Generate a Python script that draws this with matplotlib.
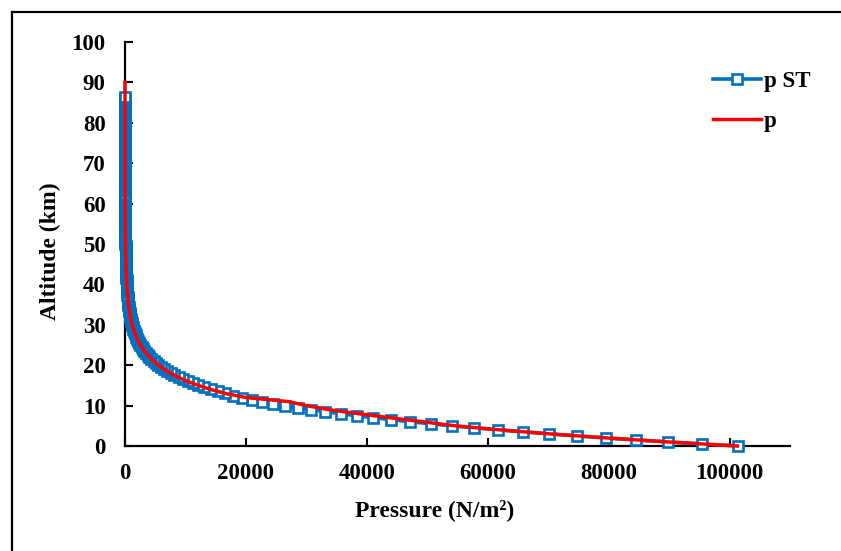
import matplotlib
matplotlib.use("Agg")
import matplotlib.pyplot as plt
from matplotlib.lines import Line2D

# Standard atmosphere pressure (N/m^2) every 0.5 km from 0 to 86.5 km
st_alt_km = [i * 0.5 for i in range(174)]
st_pressure = [
    101325, 95461, 89876, 84560, 79501, 74692, 70121, 65780, 61660, 57753,
    54048, 50539, 47218, 44075, 41105, 38300, 35652, 33154, 30801, 28584,
    26500, 24540, 22700, 20985, 19399, 17934, 16580, 15328, 14170, 13101,
    12112, 11198, 10353, 9572, 8850, 8182, 7565, 6995, 6468, 5980,
    5529, 5113, 4729, 4375, 4047, 3745, 3467, 3209, 2972, 2752,
    2549, 2362, 2188, 2028, 1880, 1743, 1616, 1499, 1390, 1290,
    1197, 1113, 1031, 958, 889, 827, 767, 714, 663, 618,
    575, 535, 498, 464, 433, 404, 377, 352, 328, 307,
    287, 268, 251, 235, 220, 206, 193, 181, 169, 159,
    149, 140, 131, 123, 116, 109, 102, 96, 90.5, 85,
    79.8, 75, 70.5, 66, 62.2, 58.4, 54.8, 51.5, 48.3, 45.3,
    42.5, 39.9, 37.4, 35.1, 32.9, 30.8, 28.9, 27.0, 25.3, 23.7,
    22.2, 20.8, 19.4, 18.2, 17.0, 15.9, 14.8, 13.8, 12.9, 12.0,
    11.2, 10.4, 9.7, 9.0, 8.4, 7.8, 7.3, 6.8, 6.3, 5.9,
    5.5, 5.1, 4.7, 4.3, 4.0, 3.7, 3.5, 3.2, 3.0, 2.7,
    2.5, 2.3, 2.1, 1.95, 1.8, 1.65, 1.5, 1.4, 1.3, 1.15,
    1.05, 0.97, 0.89, 0.81, 0.74, 0.68, 0.62, 0.57, 0.52, 0.47,
    0.43, 0.40, 0.36, 0.33,
]

# Computed pressure profile
p_alt_km = [0, 1, 2, 3, 4, 5, 6, 7, 8, 9, 10, 11, 12, 13, 14, 15, 16, 17,
            18, 19, 20, 21, 22, 23, 24, 25, 26, 27, 28, 29, 30, 32, 35, 40,
            45, 50, 60, 70, 80, 90]
p_pressure = [101325, 89900, 79600, 70300, 62000, 54600, 49300, 43800,
              38600, 33700, 30000, 27000, 20000, 16600, 14170, 12112, 10353,
              8850, 7565, 6468, 5529, 4729, 4047, 3467, 2972, 2549, 2188,
              1880, 1616, 1390, 1197, 889, 575, 287, 149, 79.8, 22.2, 5.5,
              1.05, 0.18]

x_ticks = [0, 20000, 40000, 60000, 80000, 100000]
y_ticks = list(range(0, 101, 10))

FONT = "Liberation Serif"
BLUE = "#0070C0"
RED = "#FF0000"
TICK_FS = 16.5
LABEL_FS = 17

fig = plt.figure(figsize=(8.41, 5.51), dpi=100)
W, H = 841, 551
ax = fig.add_axes([125 / W, (H - 446) / H, 665 / W, 404 / H])

ax.plot(st_pressure, st_alt_km, color=BLUE, lw=2.6, marker="s", ms=7.2,
        mfc="white", mec=BLUE, mew=1.9, label="p ST", zorder=3,
        clip_on=False)
ax.plot(p_pressure, p_alt_km, color=RED, lw=2.5, label="p", zorder=4,
        clip_on=False)

ax.set_xlim(0, 110000)
ax.set_ylim(0, 100)
ax.set_xticks(x_ticks)
ax.set_yticks(y_ticks)
ax.set_xticklabels([str(v) for v in x_ticks])
ax.set_yticklabels([str(v) for v in y_ticks])

for side in ("top", "right"):
    ax.spines[side].set_visible(False)
for side in ("left", "bottom"):
    ax.spines[side].set_linewidth(1.6)
    ax.spines[side].set_color("black")
    ax.spines[side].set_zorder(2)

ax.tick_params(axis="both", direction="in", length=5.5, width=1.5,
               colors="black")
ax.tick_params(axis="x", pad=12)
ax.tick_params(axis="y", pad=14)
for lab in ax.get_xticklabels() + ax.get_yticklabels():
    lab.set_fontfamily(FONT)
    lab.set_fontweight("bold")
    lab.set_fontsize(TICK_FS)

fig.text(435 / W, 1 - 510 / H, "Pressure (N/m²)", ha="center", va="center",
         fontfamily=FONT, fontweight="bold", fontsize=LABEL_FS)
fig.text(50 / W, 1 - 251 / H, "Altitude (km)", ha="center", va="center",
         rotation=90, fontfamily=FONT, fontweight="bold", fontsize=LABEL_FS)

leg = ax.legend(loc="upper left",
                bbox_to_anchor=((713 - 125) / 665, (446 - 71) / 404),
                frameon=False,
                prop={"family": FONT, "weight": "bold", "size": TICK_FS},
                handlelength=2.1, handletextpad=0.12, labelspacing=0.82,
                borderpad=0, borderaxespad=0)
for h in leg.legend_handles:
    h.set_markevery([1])

# Outer chart frame
fig.add_artist(Line2D([12 / W, 1.0], [1 - 12 / H, 1 - 12 / H], color="black",
                      lw=1.6, transform=fig.transFigure))
fig.add_artist(Line2D([12 / W, 12 / W], [1 - 12 / H, 0.0], color="black",
                      lw=1.6, transform=fig.transFigure))

fig.savefig("out.png", dpi=100)
